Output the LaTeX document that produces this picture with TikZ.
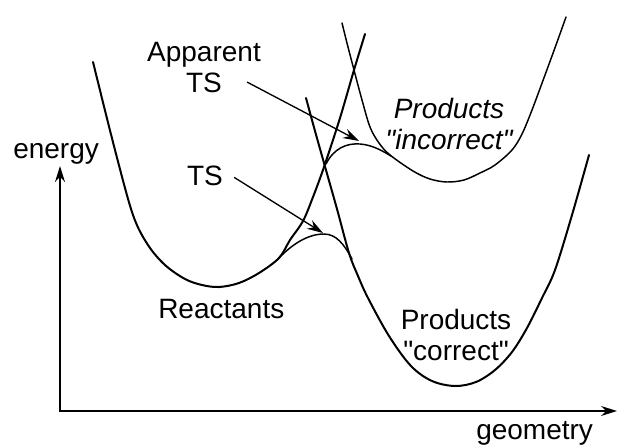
\documentclass[tikz,border=0pt]{standalone}
\usepackage{fontspec}
\setmainfont{Liberation Sans}[Ligatures=TeXOff]
\usetikzlibrary{arrows.meta}
\begin{document}
\begin{tikzpicture}[x=0.75pt,y=-0.75pt,
  curve/.style={line width=1.5pt, line join=round, line cap=round},
  thincurve/.style={line width=1.1pt, line join=round, line cap=round},
  lbl/.style={font=\fontsize{21}{23.25}\selectfont, inner sep=0pt},
  ilbl/.style={font=\fontsize{21}{23.25}\selectfont\itshape, inner sep=0pt},
  pointer/.style={line width=1pt, -{Stealth[length=12pt,width=7.5pt,inset=4pt]}},
  axis/.style={line width=1.3pt, {Stealth[length=12pt,width=7.5pt,inset=4pt]}-{Stealth[length=12pt,width=7.5pt,inset=4pt]}}]
\useasboundingbox (0,0) rectangle (618,446);
\fill[white] (0,0) rectangle (618,446);

% axes
\coordinate (origin) at (60,411);
\coordinate (ytip) at (60,166);
\coordinate (xtip) at (617,411);
\draw[axis] (ytip) -- (origin) -- (xtip);

% reactants well
\draw[curve] plot[smooth, tension=0.55] coordinates {(93,62) (115,150) (133,215) (148,245) (165,265) (185,279) (202,285) (219,287) (239,283) (259,273) (279,258) (290,240) (303,221) (313,197) (324,167) (340,118) (354,70) (365,34)};

% products "correct" well
\draw[curve] plot[smooth, tension=0.55] coordinates {(306,98) (315,131) (324,163) (337,209) (349,253) (358,276) (368,298) (389,336) (411,366) (432,381) (455,386) (476,382) (495,370) (512,352) (527,328) (542,298) (555,270) (572,215) (589,155)};

% products "incorrect" well
\draw[thincurve] plot[smooth, tension=0.55] coordinates {(342,23) (348,47) (354,70) (362,100) (370,127) (379,143) (390,155) (413,171) (430,179) (447,182) (464,180) (480,173) (495,165) (512,150) (522,134) (532,110) (545,75) (556,45) (566,17)};

% avoided crossings
\draw[thincurve] (277,260) .. controls (292,244) and (308,234) .. (324,234) .. controls (336,234) and (344,244) .. (352,259);
\draw[thincurve] (326,164) .. controls (334,148) and (347,143) .. (360,144) .. controls (372,145) and (381,150) .. (391,156);

\coordinate (tsmax) at (323,233);
\coordinate (appmax) at (359,141);

% labels
\node[lbl, anchor=base west] (energy) at (13,158) {energy};
\node[lbl, anchor=base west] (geom) at (476,439) {geometry};
\node[lbl, anchor=north, align=center] (app) at (204,42) {Apparent\\TS};
\node[lbl, anchor=base] (ts) at (205,185) {TS};
\node[lbl, anchor=base west] (react) at (158,318) {Reactants};
\node[lbl, anchor=north, align=center] (pc) at (456,309) {Products\\"correct"};
\node[ilbl, anchor=north, align=center] (pi) at (449,98) {Products\\"incorrect"};

% pointers
\draw[pointer] ([shift={(11,2)}]ts.east) -- (tsmax);
\draw[pointer] ([shift={(-14,-11)}]app.south east) -- (appmax);
\end{tikzpicture}
\end{document}
